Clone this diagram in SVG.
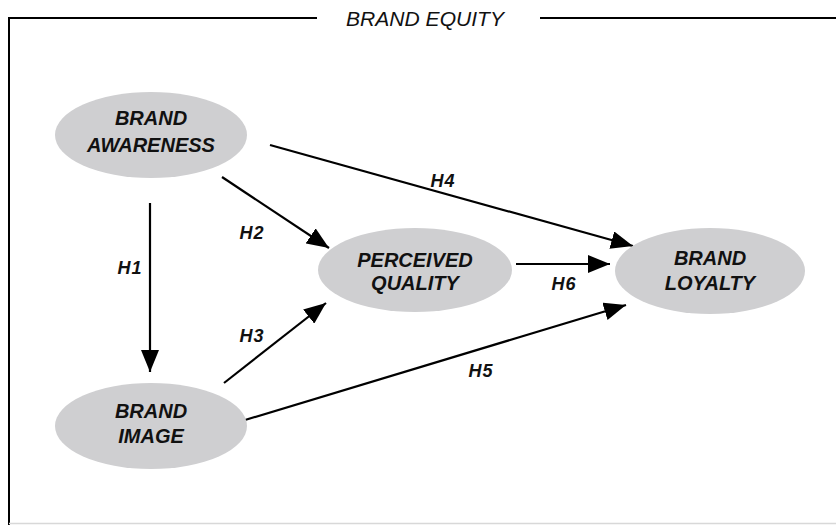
<svg xmlns="http://www.w3.org/2000/svg" width="836" height="525" viewBox="0 0 836 525">
  <defs>
    <marker id="arrow" viewBox="0 0 22 18" refX="22" refY="9" markerWidth="22" markerHeight="18" markerUnits="userSpaceOnUse" orient="auto">
      <path d="M0,0 L22,9 L0,18 z" fill="#000"/>
    </marker>
    <style>
      .frame { fill: none; stroke: #000; stroke-width: 2; }
      .node ellipse { fill: #cfcfd1; stroke: none; }
      .node text { font-family: "Liberation Sans", Arial, sans-serif; font-weight: bold; font-style: italic; font-size: 20px; fill: #111; text-anchor: middle; }
      .edge { stroke: #000; stroke-width: 2.2; fill: none; }
      .label { font-family: "Liberation Sans", Arial, sans-serif; font-weight: bold; font-style: italic; font-size: 18px; letter-spacing: 1px; fill: #111; text-anchor: middle; }
      .title { font-family: "Liberation Sans", Arial, sans-serif; font-style: italic; font-size: 20px; fill: #111; text-anchor: middle; }
    </style>
  </defs>
  <rect width="836" height="525" fill="#fff"/>

  <!-- Outer frame with title gap -->
  <g id="frame">
    <path class="frame" d="M9,525 L9,18 L317,18"/>
    <path class="frame" d="M540,18 L836,18"/>
    <line x1="9" y1="523.5" x2="836" y2="523.5" stroke="#d8d8d8" stroke-width="1.5"/>
    <text class="title" x="425" y="26" textLength="158" lengthAdjust="spacingAndGlyphs">BRAND EQUITY</text>
  </g>

  <!-- Connectors -->
  <g id="connectors">
    <line class="edge" x1="150" y1="203" x2="150" y2="372" marker-end="url(#arrow)"/>
    <line class="edge" x1="222" y1="177" x2="329" y2="248" marker-end="url(#arrow)"/>
    <line class="edge" x1="224" y1="383" x2="326" y2="303" marker-end="url(#arrow)"/>
    <line class="edge" x1="270" y1="145" x2="633" y2="246" marker-end="url(#arrow)"/>
    <line class="edge" x1="245" y1="420" x2="626" y2="305" marker-end="url(#arrow)"/>
    <line class="edge" x1="516" y1="264" x2="610" y2="264" marker-end="url(#arrow)"/>
    <text class="label" x="130" y="274">H1</text>
    <text class="label" x="252" y="239">H2</text>
    <text class="label" x="252" y="342">H3</text>
    <text class="label" x="443" y="187">H4</text>
    <text class="label" x="481" y="377">H5</text>
    <text class="label" x="564" y="290">H6</text>
  </g>

  <g id="brand-awareness" class="node">
    <ellipse cx="151" cy="135" rx="96" ry="43"/>
    <text x="151" y="125">BRAND</text>
    <text x="151" y="152">AWARENESS</text>
  </g>

  <g id="perceived-quality" class="node">
    <ellipse cx="415" cy="270" rx="97" ry="42"/>
    <text x="415" y="267">PERCEIVED</text>
    <text x="415" y="290">QUALITY</text>
  </g>

  <g id="brand-loyalty" class="node">
    <ellipse cx="710" cy="271" rx="95" ry="43"/>
    <text x="710" y="265">BRAND</text>
    <text x="710" y="290">LOYALTY</text>
  </g>

  <g id="brand-image" class="node">
    <ellipse cx="151" cy="426" rx="96" ry="43"/>
    <text x="151" y="418">BRAND</text>
    <text x="151" y="443">IMAGE</text>
  </g>
</svg>
